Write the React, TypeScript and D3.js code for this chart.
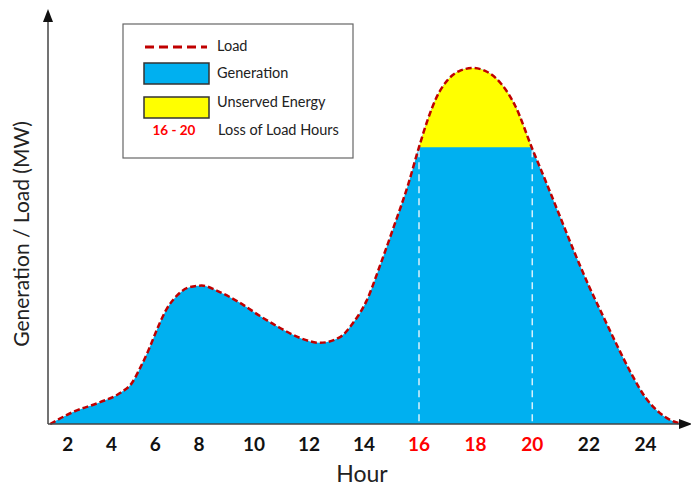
import React from 'react';
import * as d3 from 'd3';

// hourly load profile (MW)
const hours = [
  1.2, 2.24, 3.48, 4.39, 4.94, 5.3, 5.7, 6.1, 6.5, 7.0, 7.5, 8.1, 8.76, 9.49, 10.22,
  10.95, 11.67, 12.4, 13.13, 13.6, 14.1, 14.6, 15.1, 15.6, 16, 16.3, 16.6, 17, 17.4, 17.9,
  18.4, 18.9, 19.4, 20, 20.5, 21, 21.5, 22, 22.5, 23, 23.5, 24, 24.5, 25, 25.35,
];
const load = [
  0, 29, 53, 75, 100, 135, 180, 232, 277, 312, 331, 336, 320, 294, 262,
  233, 209, 197, 211, 245, 300, 388, 482, 580, 672, 737, 790, 834, 856, 864,
  855, 826, 772, 668, 585, 500, 415, 335, 262, 190, 122, 64, 27, 6, 0,
];
const generationCap = 672;
const lossHours = [16, 20];
const tickHours = [2, 4, 6, 8, 10, 12, 14, 16, 18, 20, 22, 24];
const redTicks = [16, 18, 20];

const legendItems = ['Load', 'Generation', 'Unserved Energy'];

const W = 691;
const H = 486;
const FONT = 'Lato, "Open Sans", sans-serif';

export default function App() {
  const pts = hours.map((h, i) => ({ h, v: load[i] }));

  // the original figure spaces its hour labels unevenly, so the scale is piecewise
  const x = d3.scaleLinear().domain([1.1, 8, 16, 25.5]).range([48, 199, 419, 688]);
  const y = d3.scaleLinear().domain([0, 1000]).range([424, 12]);

  const area = d3
    .area<{ h: number; v: number }>()
    .x((d) => x(d.h))
    .y0(y(0))
    .y1((d) => y(d.v))
    .curve(d3.curveMonotoneX);
  const line = d3
    .line<{ h: number; v: number }>()
    .x((d) => x(d.h))
    .y((d) => y(d.v))
    .curve(d3.curveMonotoneX);

  const areaPath = area(pts) || '';
  const linePath = line(pts) || '';
  const x0 = x.range()[0];
  const x1 = x.range()[x.range().length - 1];

  return (
    <svg
      width={W}
      height={H}
      style={{ position: 'absolute', left: 0, top: 0, background: '#fff' }}
      fontFamily={FONT}
    >
      <defs>
        <clipPath id="unserved">
          <rect
            x={x(lossHours[0])}
            y={0}
            width={x(lossHours[1]) - x(lossHours[0])}
            height={y(generationCap)}
          />
        </clipPath>
      </defs>

      {/* generation (everything under load) */}
      <path d={areaPath} fill="#00b0f0" />
      {/* unserved energy above the generation cap */}
      <path d={areaPath} fill="#ffff00" clipPath="url(#unserved)" />

      {/* loss-of-load window markers */}
      {lossHours.map((h) => (
        <line
          key={h}
          x1={x(h)}
          x2={x(h)}
          y1={y(generationCap) + 3}
          y2={y(0)}
          stroke="#d6f1fc"
          strokeWidth={1.5}
          strokeDasharray="7 5"
        />
      ))}

      {/* load curve */}
      <path d={linePath} fill="none" stroke="#c00000" strokeWidth={2.5} strokeDasharray="6 3" />

      {/* axes */}
      <line x1={x0} x2={x0} y1={y(0)} y2={18} stroke="#444" strokeWidth={1.5} />
      <path d={`M${x0},9 L${x0 - 5},22 L${x0 + 5},22 Z`} fill="#111" />
      <line x1={x0} x2={x1 - 8} y1={y(0)} y2={y(0)} stroke="#444" strokeWidth={1.5} />
      <path d={`M${x1 + 4},${y(0)} L${x1 - 9},${y(0) - 5} L${x1 - 9},${y(0) + 5} Z`} fill="#111" />

      {tickHours.map((t) => (
        <text
          key={t}
          x={x(t)}
          y={451}
          textAnchor="middle"
          fontSize={19}
          fontWeight="bold"
          fill={redTicks.includes(t) ? '#ff0000' : '#111'}
        >
          {t}
        </text>
      ))}
      <text x={362} y={482} textAnchor="middle" fontSize={23} fill="#222">
        Hour
      </text>
      <text
        transform={`translate(29,${234}) rotate(-90)`}
        textAnchor="middle"
        fontSize={21}
        fill="#222"
      >
        Generation / Load (MW)
      </text>

      {/* legend */}
      <g>
        <rect x={123} y={24} width={230} height={134} fill="#fff" stroke="#666" strokeWidth={1.2} />
        <line x1={145} x2={207} y1={47} y2={47} stroke="#c00000" strokeWidth={3} strokeDasharray="9 5" />
        <rect x={144} y={63} width={65} height={21} fill="#00b0f0" stroke="#333" strokeWidth={1.5} />
        <rect x={144} y={97} width={65} height={21} fill="#ffff00" stroke="#333" strokeWidth={1.5} />
        {legendItems.map((label, i) => (
          <text key={label} x={217} y={[51, 78, 107][i]} fontSize={14.5} fill="#222">
            {label}
          </text>
        ))}
        <text x={174} y={135} textAnchor="middle" fontSize={13.5} fontWeight="bold" fill="#ff0000">
          {`${lossHours[0]} - ${lossHours[1]}`}
        </text>
        <text x={218} y={135} fontSize={14.5} fill="#222">
          Loss of Load Hours
        </text>
      </g>
    </svg>
  );
}
